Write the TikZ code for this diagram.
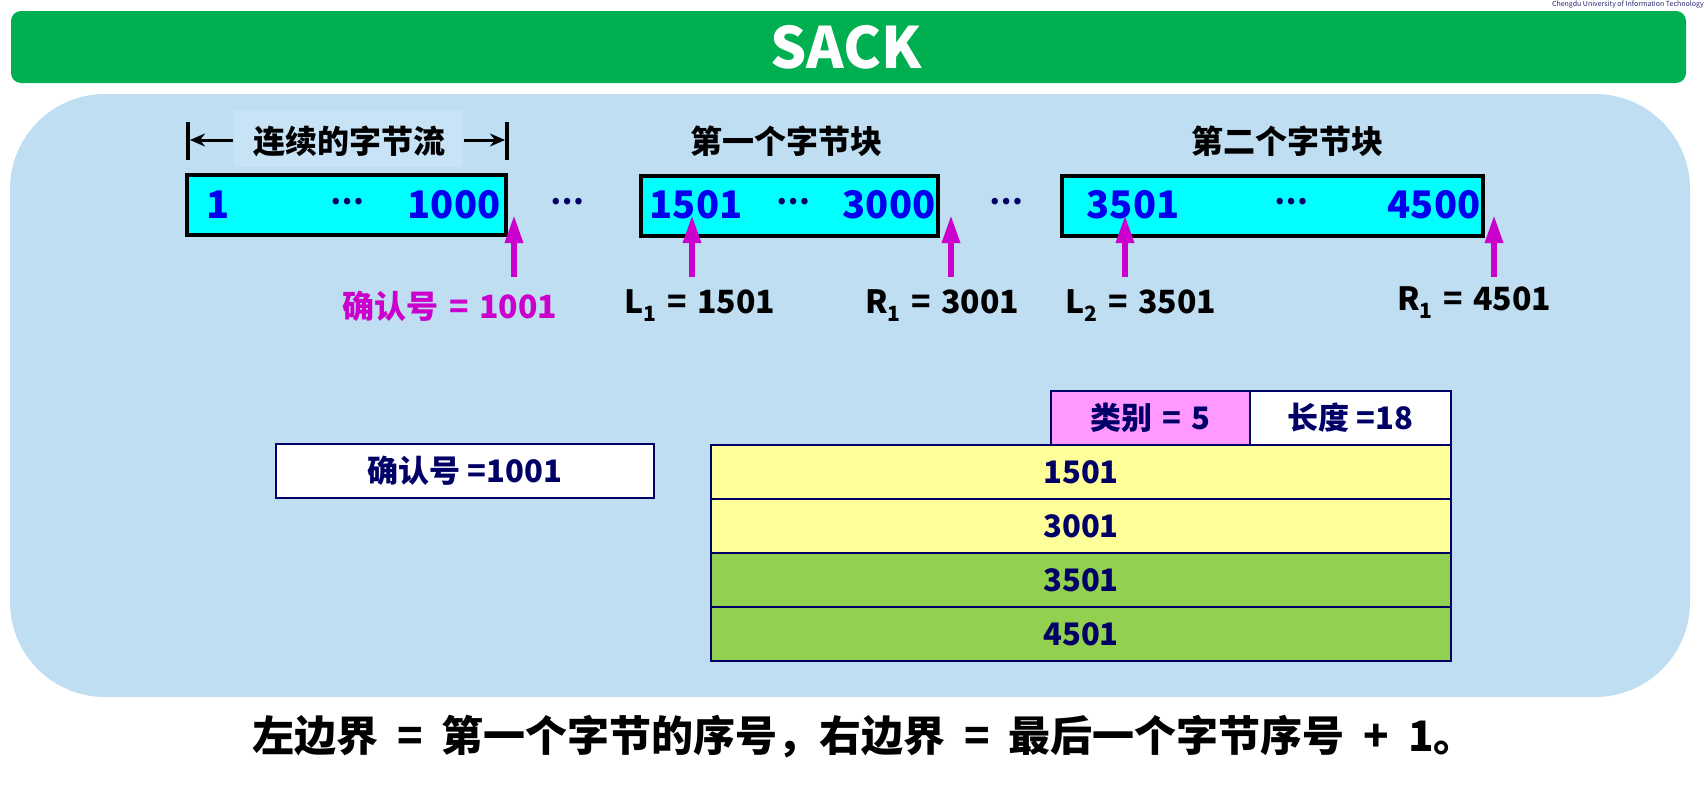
\documentclass[tikz,border=0pt]{standalone}
\usepackage{fontspec}
\setmainfont{Noto Sans CJK SC}
\usetikzlibrary{arrows.meta}
\definecolor{titlegreen}{HTML}{00B050}
\definecolor{panel}{HTML}{BFDEF2}
\definecolor{panellight}{HTML}{C8E3F5}
\definecolor{bytecyan}{HTML}{00FFFF}
\definecolor{numblue}{HTML}{0000EE}
\definecolor{navy}{HTML}{000066}
\definecolor{magent}{HTML}{CC00CC}
\definecolor{rowyellow}{HTML}{FFFF99}
\definecolor{rowgreen}{HTML}{92D050}
\definecolor{typepink}{HTML}{FF99FF}
\newcommand{\fs}[1]{\fontsize{#1}{#1}\selectfont}
\newcommand{\wsp}{\hspace{0.45em}}
\newcommand{\lsp}{\hspace{0.33em}}
\tikzset{
  txt/.style={inner sep=0pt, font=\bfseries\fs{32}},
  bytebox/.style={draw=black, line width=4pt, fill=bytecyan, inner sep=0pt},
  bytenum/.style={inner sep=0pt, text=numblue, font=\bfseries\fs{38}},
  dots/.style={inner sep=0pt, text=navy, font=\bfseries\fs{30}},
  ptr/.style={magent, line width=6pt, -{Triangle[width=17pt,length=28pt]}},
  dim/.style={black, line width=3pt, -{Stealth[width=13pt,length=15pt]}},
  bar/.style={black, line width=3.5pt},
  cell/.style={draw=navy, line width=2pt, inner sep=0pt, minimum height=54pt, text=navy, font=\bfseries\fs{31}},
}
\begin{document}
\begin{tikzpicture}[x=1pt,y=-1pt]
\useasboundingbox (0,0) rectangle (1706,811);
\fill[white] (0,0) rectangle (1706,811);
% watermark
\node[anchor=north east, inner sep=0pt, text=navy!70!gray, font=\fs{7}] (wm) at (1704,1) {Chengdu University of Information Technology};
% title bar
\fill[titlegreen, rounded corners=10pt] (11,11) rectangle (1686,83);
\node[inner sep=0pt, text=white, font=\bfseries\fs{57}] (title) at (846,47) {SACK};
% panel
\fill[panel, rounded corners=95pt] (10,94) rectangle (1690,697);

% headings
\fill[panellight] (234,110) rectangle (463,167);
\node[txt] (h1) at (349,141) {连续的字节流};
\node[txt] (h2) at (786,141) {第一个字节块};
\node[txt] (h3) at (1287,141) {第二个字节块};
\coordinate (bl) at (188,122); \coordinate (bl2) at (188,160);
\coordinate (br) at (507,122); \coordinate (br2) at (507,160);
\coordinate (al0) at (233,140); \coordinate (al1) at (190,140);
\coordinate (ar0) at (464,140); \coordinate (ar1) at (505,140);
\draw[bar] (bl) -- (bl2);
\draw[bar] (br) -- (br2);
\draw[dim] (al0) -- (al1);
\draw[dim] (ar0) -- (ar1);

% byte boxes
\node[bytebox, minimum width=319pt, minimum height=60pt] (b1) at (346.5,205) {};
\node[bytebox, minimum width=297pt, minimum height=60pt] (b2) at (789.5,205.5) {};
\node[bytebox, minimum width=421pt, minimum height=60pt] (b3) at (1272.5,205.5) {};
\node[bytenum] (n1) at (218,205) {1};
\node[dots] (d1) at (347,202) {⋯};
\node[bytenum] (n1000) at (454,205) {1000};
\node[bytenum] (n1501) at (696,205) {1501};
\node[dots] (d2) at (793,202) {⋯};
\node[bytenum] (n3000) at (889,205) {3000};
\node[bytenum] (n3501) at (1133,205) {3501};
\node[dots] (d3) at (1291,202) {⋯};
\node[bytenum] (n4500) at (1434,205) {4500};
\node[dots] (g1) at (567,202) {⋯};
\node[dots] (g2) at (1006,202) {⋯};

% pointer arrows
\coordinate (t1) at (514,277); \coordinate (p1) at (514,215);
\coordinate (t2) at (692,277); \coordinate (p2) at (692,215);
\coordinate (t3) at (951,277); \coordinate (p3) at (951,215);
\coordinate (t4) at (1125,277); \coordinate (p4) at (1125,215);
\coordinate (t5) at (1494,277); \coordinate (p5) at (1494,215);
\draw[ptr] (t1) -- (p1);
\draw[ptr] (t2) -- (p2);
\draw[ptr] (t3) -- (p3);
\draw[ptr] (t4) -- (p4);
\draw[ptr] (t5) -- (p5);

% labels
\node[txt, text=magent] (lack) at (450,306) {确认号\lsp{}=\lsp{}1001};
\node[txt] (l1) at (700,306) {L\raisebox{-0.25em}{\fs{21}1}\lsp{}=\lsp{}1501};
\node[txt] (r1) at (942,306) {R\raisebox{-0.25em}{\fs{21}1}\lsp{}=\lsp{}3001};
\node[txt] (l2) at (1141,306) {L\raisebox{-0.25em}{\fs{21}2}\lsp{}=\lsp{}3501};
\node[txt] (r2) at (1474,303) {R\raisebox{-0.25em}{\fs{21}1}\lsp{}=\lsp{}4501};

% lower section
\node[cell, fill=white, minimum width=378pt] (ack) at (465,471) {确认号 =1001};
\node[cell, fill=typepink, minimum width=199pt] (typ) at (1150.5,418) {类别\lsp{}=\lsp{}5};
\node[cell, fill=white, minimum width=201pt] (len) at (1350.5,418) {长度 =18};
\node[cell, fill=rowyellow, minimum width=740pt] (row1) at (1081,472) {1501};
\node[cell, fill=rowyellow, minimum width=740pt] (row2) at (1081,526) {3001};
\node[cell, fill=rowgreen, minimum width=740pt] (row3) at (1081,580) {3501};
\node[cell, fill=rowgreen, minimum width=740pt] (row4) at (1081,634) {4501};

% caption
\node[inner sep=0pt, font=\bfseries\fs{42}] (cap) at (864,737) {左边界\wsp{}=\wsp{}第一个字节的序号，右边界\wsp{}=\wsp{}最后一个字节序号\wsp{}+\wsp{}1。};
\end{tikzpicture}
\end{document}
